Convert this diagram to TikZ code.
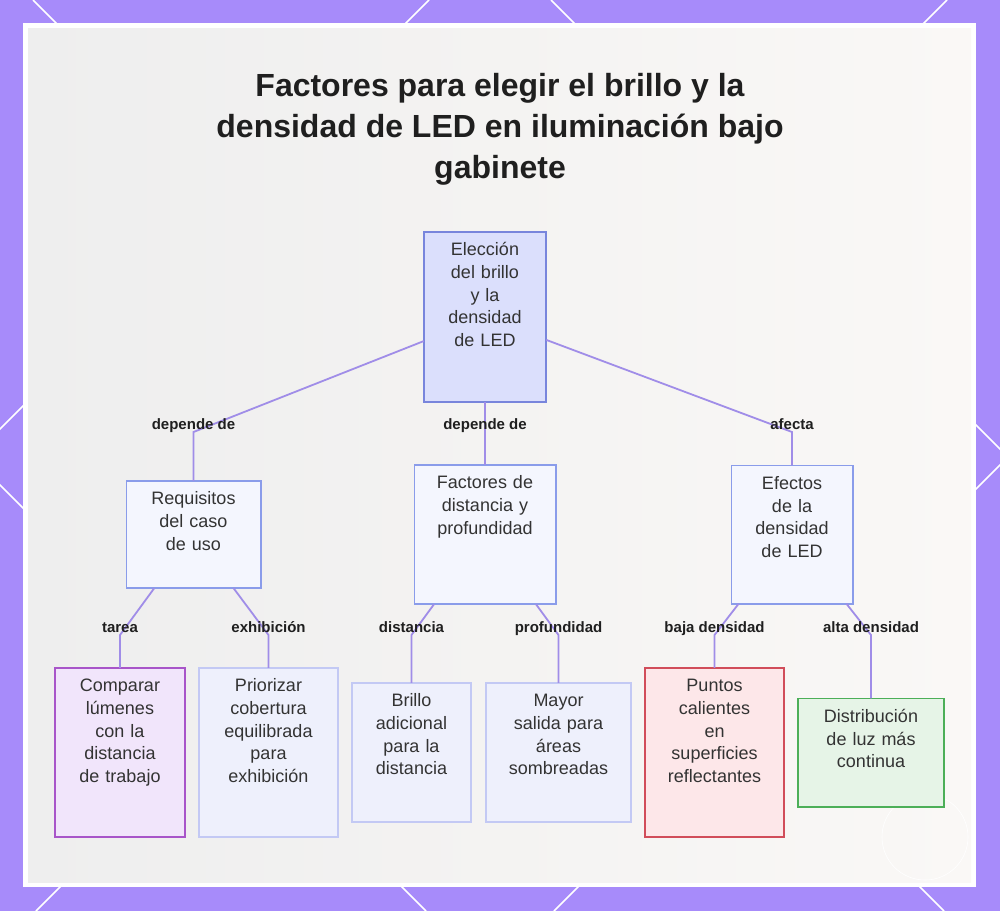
\documentclass[tikz,border=0pt]{standalone}
\usepackage{fontspec}
\setmainfont{Liberation Sans}
\usetikzlibrary{positioning}

\definecolor{framecol}{HTML}{A78BFA}
\definecolor{panelL}{HTML}{EEEEEE}
\definecolor{panelR}{HTML}{FAF8F6}
\definecolor{linkcol}{HTML}{A08DE8}
\definecolor{ink}{HTML}{1F1F1F}
\definecolor{txt}{HTML}{333333}
\definecolor{rootfill}{HTML}{DBDFFC}
\definecolor{rootline}{HTML}{7885DC}
\definecolor{midfill}{HTML}{F4F6FE}
\definecolor{midline}{HTML}{8A9CEA}
\definecolor{leaffill}{HTML}{EEF0FC}
\definecolor{leafline}{HTML}{C3C9F4}
\definecolor{purfill}{HTML}{F1E5FB}
\definecolor{purline}{HTML}{A855C9}
\definecolor{redfill}{HTML}{FDE7E9}
\definecolor{redline}{HTML}{D14D5A}
\definecolor{grnfill}{HTML}{E6F4E7}
\definecolor{grnline}{HTML}{4CAF58}

\begin{document}
\begin{tikzpicture}[
  x=1pt, y=-1pt,
  box/.style={draw, line width=1.6pt, outer sep=0pt, align=center, inner sep=6pt, text height=18pt,
    font=\fontsize{18}{22.7}\selectfont, text=txt},
  link/.style={draw=linkcol, line width=1.8pt},
  lbl/.style={font=\fontsize{15}{18}\selectfont\bfseries, text=ink, text height=11pt, text depth=3pt, yshift=7pt}
]
\useasboundingbox (0,0) rectangle (1000,911);

% frame and panel
\fill[framecol] (0,0) rectangle (1000,911);
\begin{scope}
  \clip (0,0) rectangle (1000,911);
  \foreach \c in {-485,33,551}
    \draw[white, line width=1.5pt] (\c,0) -- ++(911,911);
  \foreach \d in {429,947,1465}
    \draw[white, line width=1.5pt] (\d,0) -- ++(-911,911);
\end{scope}
\fill[white] (23,23) rectangle (976,887);
\shade[left color=panelL, right color=panelR] (28,28) rectangle (971,882);
\draw[white, line width=0.6pt] (925,837) circle (43pt);

\node[font=\fontsize{32}{41}\selectfont\bfseries, align=center, text=ink] (title) at (500,129)
  {Factores para elegir el brillo y la\\densidad de LED en iluminación bajo\\gabinete};

\node[box, fill=rootfill, draw=rootline, text width=110.4pt, text depth=140.4pt, anchor=north] (root) at (485,231.8)
  {Elección\\del brillo\\y la\\densidad\\de LED};

\node[box, fill=midfill, draw=midline, text width=129.4pt, text depth=109.4pt, below=62.6pt of root] (fac)
  {Factores de\\distancia y\\profundidad};
\node[box, fill=midfill, draw=midline, text width=122.4pt, text depth=77.4pt, left=153.6pt of fac] (req)
  {Requisitos\\del caso\\de uso};
\node[box, fill=midfill, draw=midline, text width=109.4pt, text depth=108.4pt, right=175.6pt of fac] (efe)
  {Efectos\\de la\\densidad\\de LED};

\node[box, fill=purfill, draw=purline, text width=118.4pt, text depth=139.4pt] (cmp) at (120,752.5)
  {Comparar\\lúmenes\\con la\\distancia\\de trabajo};
\node[box, fill=leaffill, draw=leafline, text width=127.4pt, text depth=139.4pt, right=13.6pt of cmp] (pri)
  {Priorizar\\cobertura\\equilibrada\\para\\exhibición};
\node[box, fill=leaffill, draw=leafline, text width=107.4pt, text depth=109.4pt, right=13.6pt of pri] (bri)
  {Brillo\\adicional\\para la\\distancia};
\node[box, fill=leaffill, draw=leafline, text width=133.4pt, text depth=109.4pt, right=14.6pt of bri] (may)
  {Mayor\\salida para\\áreas\\sombreadas};
\node[box, fill=redfill, draw=redline, text width=127.4pt, text depth=139.4pt, right=13.6pt of may] (pun)
  {Puntos\\calientes\\en\\superficies\\reflectantes};
\node[box, fill=grnfill, draw=grnline, text width=134.4pt, text depth=78.4pt, right=13.6pt of pun] (dis)
  {Distribución\\de luz más\\continua};

\draw[link] (root) -- (req.north |- 0,432) node[lbl] {depende de} -- (req);
\draw[link] (root) -- (fac.north |- 0,432) node[lbl] {depende de} -- (fac);
\draw[link] (root) -- (efe.north |- 0,432) node[lbl] {afecta} -- (efe);

\draw[link] (req) -- (cmp.north |- 0,635) node[lbl] {tarea} -- (cmp);
\draw[link] (req) -- (pri.north |- 0,635) node[lbl] {exhibición} -- (pri);
\draw[link] (fac) -- (bri.north |- 0,635) node[lbl] {distancia} -- (bri);
\draw[link] (fac) -- (may.north |- 0,635) node[lbl] {profundidad} -- (may);
\draw[link] (efe) -- (pun.north |- 0,635) node[lbl] {baja densidad} -- (pun);
\draw[link] (efe) -- (dis.north |- 0,635) node[lbl] {alta densidad} -- (dis);
\end{tikzpicture}
\end{document}
